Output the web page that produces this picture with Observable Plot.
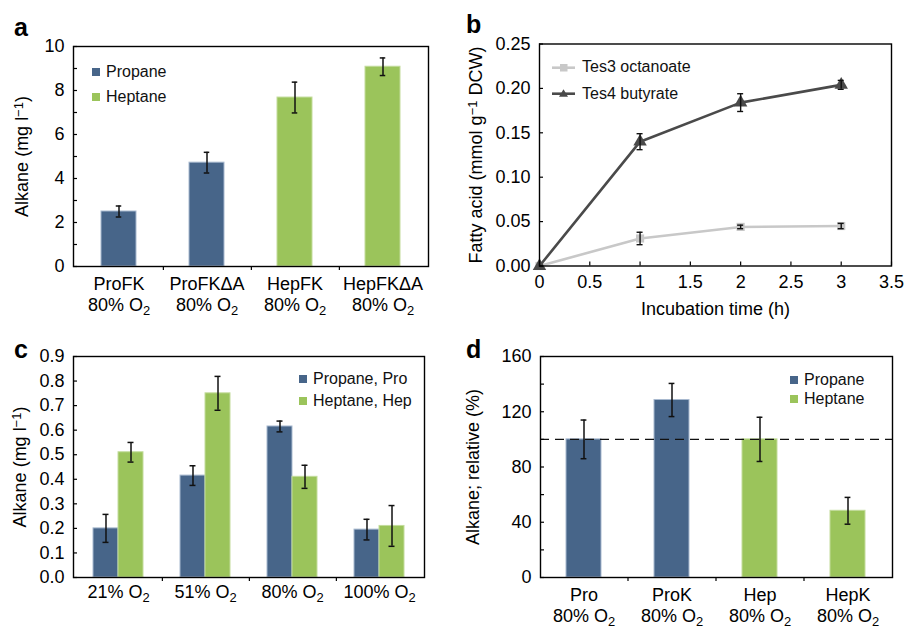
<!DOCTYPE html>
<html><head><meta charset="utf-8">
<script src="https://cdn.jsdelivr.net/npm/d3@7"></script>
<script src="https://cdn.jsdelivr.net/npm/@observablehq/plot@0.6"></script>
<style>
body{margin:0;background:#fff;font-family:"Liberation Sans",Arial,sans-serif;}
#fig{position:relative;width:904px;height:629px;overflow:hidden;background:#fff;}
.panel{position:absolute;}
.letter{position:absolute;font-weight:bold;font-size:25px;line-height:1;color:#000;}
.leg{position:absolute;font-size:16px;color:#111;white-space:nowrap;display:flex;align-items:center;height:20px;}
.sw{display:inline-block;width:8px;height:8px;margin-right:6px;}
</style></head><body><div id="fig"></div><script>
// ---------- data ----------
// Panel a
const aCategories = ["ProFK", "ProFKΔA", "HepFK", "HepFKΔA"];
const aCondition = ["80% O_{2}", "80% O_{2}", "80% O_{2}", "80% O_{2}"];
const aSeries = ["Propane", "Propane", "Heptane", "Heptane"];
const aValues = [2.5, 4.72, 7.68, 9.08];
const aErrors = [0.25, 0.47, 0.70, 0.40];
const aTicks = [0, 2, 4, 6, 8, 10];
const aMinorTicks = [0, 1, 2, 3, 4, 5, 6, 7, 8, 9, 10];

// Panel b
const bTimes = [0, 1, 2, 3];
const bOctanoate = [0, 0.031, 0.044, 0.045];
const bOctanoateErr = [0, 0.007, 0.002, 0.003];
const bButyrate = [0, 0.140, 0.184, 0.204];
const bButyrateErr = [0, 0.009, 0.010, 0.005];
const bXTicks = [0, 0.5, 1, 1.5, 2, 2.5, 3, 3.5];
const bYTicks = [0, 0.05, 0.10, 0.15, 0.20, 0.25];

// Panel c
const cGroups = ["21% O_{2}", "51% O_{2}", "80% O_{2}", "100% O_{2}"];
const cPropane = [0.20, 0.415, 0.615, 0.195];
const cPropaneErr = [0.057, 0.040, 0.022, 0.042];
const cHeptane = [0.51, 0.75, 0.41, 0.21];
const cHeptaneErr = [0.040, 0.069, 0.047, 0.083];
const cTicks = [0, 0.1, 0.2, 0.3, 0.4, 0.5, 0.6, 0.7, 0.8, 0.9];

// Panel d
const dStrains = ["Pro", "ProK", "Hep", "HepK"];
const dCondition = ["80% O_{2}", "80% O_{2}", "80% O_{2}", "80% O_{2}"];
const dSeries = ["Propane", "Propane", "Heptane", "Heptane"];
const dValues = [100, 128.5, 100, 48.3];
const dErrors = [14, 12, 16, 9.7];
const dReference = [100];
const dTicks = [0, 40, 80, 120, 160];
const dMinorTicks = [0, 20, 40, 60, 80, 100, 120, 140, 160];

// ---------- style ----------
const BLUE = "#476589", GREEN = "#9bc45b";
const BLUE_EDGE = "#a8b9cf", GREEN_EDGE = "#c3dc9c";
const LIGHT = "#c8c8c8", DARK = "#4a4a4a";
const FONT = "'Liberation Sans', Arial, Helvetica, sans-serif";
const fig = document.getElementById("fig");

function richify(svg) {
  const nodes = [];
  const walker = document.createTreeWalker(svg, NodeFilter.SHOW_TEXT);
  while (walker.nextNode()) nodes.push(walker.currentNode);
  for (const n of nodes) {
    const s = n.nodeValue;
    if (!/[_^]\{/.test(s)) continue;
    const parent = n.parentNode;
    const re = /([_^])\{([^}]*)\}/g;
    let last = 0, m;
    const frag = document.createDocumentFragment();
    while ((m = re.exec(s))) {
      if (m.index > last) frag.appendChild(document.createTextNode(s.slice(last, m.index)));
      const t = document.createElementNS("http://www.w3.org/2000/svg", "tspan");
      t.setAttribute("baseline-shift", m[1] === "_" ? "-30%" : "38%");
      t.setAttribute("font-size", "72%");
      t.textContent = m[2];
      frag.appendChild(t);
      last = re.lastIndex;
    }
    if (last < s.length) frag.appendChild(document.createTextNode(s.slice(last)));
    parent.replaceChild(frag, n);
  }
}

function place(svg, left, top) {
  const wrap = document.createElement("div");
  wrap.className = "panel";
  wrap.style.left = left + "px";
  wrap.style.top = top + "px";
  wrap.appendChild(svg);
  fig.appendChild(wrap);
  richify(svg);
}

function letter(ch, left, top) {
  const d = document.createElement("div");
  d.className = "letter";
  d.style.left = left + "px"; d.style.top = top + "px";
  d.textContent = ch;
  fig.appendChild(d);
}

function legendSquares(items, left, top, gap) {
  items.forEach((it, i) => {
    const d = document.createElement("div");
    d.className = "leg";
    d.style.left = left + "px"; d.style.top = (top + i * gap) + "px";
    d.innerHTML = `<span class="sw" style="background:${it.color}"></span>${it.label}`;
    fig.appendChild(d);
  });
}

const baseStyle = {fontFamily: FONT, fontSize: "18px", background: "transparent", overflow: "visible", color: "#000"};

// ---------- generic bar panel (a, d) ----------
function barPanel({cats, conds, series, values, errors, yDomain, yTicks, minor, yLabel, W, H, m, labelOffset, ref}) {
  const data = cats.map((c, i) => ({cat: c, cond: conds[i], series: series[i], v: values[i], e: errors[i]}));
  const fw = W - m.l - m.r;
  const step = fw / cats.length;
  const pad = 0.6;
  const bw = step * (1 - pad);
  const cap = 3;
  const condOf = new Map(data.map(d => [d.cat, d.cond]));
  const marks = [
    Plot.barY(data.filter(d => d.series === "Propane"), {x: "cat", y: "v", fill: BLUE, stroke: BLUE_EDGE, strokeWidth: 1}),
    Plot.barY(data.filter(d => d.series === "Heptane"), {x: "cat", y: "v", fill: GREEN, stroke: GREEN_EDGE, strokeWidth: 1}),
  ];
  if (ref) marks.push(Plot.ruleY(ref, {y: d => d, stroke: "#111", strokeWidth: 1.4, strokeDasharray: "9,6"}));
  marks.push(
    Plot.ruleX(data, {x: "cat", y1: d => d.v - d.e, y2: d => d.v + d.e, stroke: "#111", strokeWidth: 1.5}),
    Plot.tickY(data, {x: "cat", y: d => d.v + d.e, stroke: "#111", strokeWidth: 1.5, insetLeft: bw / 2 - cap, insetRight: bw / 2 - cap}),
    Plot.tickY(data, {x: "cat", y: d => d.v - d.e, stroke: "#111", strokeWidth: 1.5, insetLeft: bw / 2 - cap, insetRight: bw / 2 - cap}),
    Plot.ruleY(minor, {y: d => d, stroke: "#000", strokeWidth: 1.2, insetRight: fw - 4}),
    Plot.ruleX(cats.slice(0, -1), {x: d => d, y1: yDomain[0], y2: yDomain[0], dx: step / 2, insetTop: 4, stroke: "#000", strokeWidth: 1.2}),
    Plot.frame({stroke: "#000", strokeWidth: 1.4}),
    Plot.axisY({ticks: yTicks, tickSize: 0, tickPadding: 9, label: yLabel, labelAnchor: "center", labelOffset, labelArrow: "none"}),
    Plot.axisX({tickSize: 0, tickPadding: 8, label: null, lineHeight: 1.2, tickFormat: c => c + "\n" + condOf.get(c)})
  );
  return Plot.plot({
    width: W, height: H, marginLeft: m.l, marginRight: m.r, marginTop: m.t, marginBottom: m.b,
    style: baseStyle,
    x: {domain: cats, paddingInner: pad, paddingOuter: pad / 2},
    y: {domain: yDomain},
    marks
  });
}

// ---------- panel a ----------
place(barPanel({
  cats: aCategories, conds: aCondition, series: aSeries, values: aValues, errors: aErrors,
  yDomain: [0, 10], yTicks: aTicks, minor: aMinorTicks, yLabel: "Alkane (mg l^{−1})",
  W: 450, H: 320, m: {l: 73, r: 22, t: 46, b: 54}, labelOffset: 58
}), 0, 0);
letter("a", 14, 15);
legendSquares([{label: "Propane", color: BLUE}, {label: "Heptane", color: GREEN}], 92, 62, 25);

// ---------- panel b ----------
(function () {
  const W = 454, H = 320, m = {l: 89, r: 13, t: 43.5, b: 54.5};
  const fw = W - m.l - m.r;
  const pxPerX = fw / 3.5;
  const capX = 3 / pxPerX;
  const oct = bTimes.map((t, i) => ({t, v: bOctanoate[i], e: bOctanoateErr[i]}));
  const but = bTimes.map((t, i) => ({t, v: bButyrate[i], e: bButyrateErr[i]}));
  const errMarks = (arr) => {
    const d = arr.filter(p => p.e > 0);
    return [
      Plot.ruleX(d, {x: "t", y1: p => p.v - p.e, y2: p => p.v + p.e, stroke: "#111", strokeWidth: 1.4}),
      Plot.ruleY(d, {y: p => p.v + p.e, x1: p => p.t - capX, x2: p => p.t + capX, stroke: "#111", strokeWidth: 1.4}),
      Plot.ruleY(d, {y: p => p.v - p.e, x1: p => p.t - capX, x2: p => p.t + capX, stroke: "#111", strokeWidth: 1.4})
    ];
  };
  const svg = Plot.plot({
    width: W, height: H, marginLeft: m.l, marginRight: m.r, marginTop: m.t, marginBottom: m.b,
    style: baseStyle,
    x: {domain: [0, 3.5]},
    y: {domain: [0, 0.25]},
    marks: [
      Plot.line(oct, {x: "t", y: "v", stroke: LIGHT, strokeWidth: 2.6}),
      Plot.dot(oct, {x: "t", y: "v", symbol: "square", r: 4.6, fill: LIGHT, stroke: "none"}),
      ...errMarks(oct),
      Plot.line(but, {x: "t", y: "v", stroke: DARK, strokeWidth: 2.6}),
      Plot.dot(but, {x: "t", y: "v", symbol: "triangle", r: 5, fill: DARK, stroke: "none"}),
      ...errMarks(but),
      Plot.ruleY(bYTicks, {y: d => d, stroke: "#000", strokeWidth: 1.2, insetRight: fw - 4}),
      Plot.ruleX(bXTicks, {x: d => d, y1: 0, y2: 0, insetBottom: 4, stroke: "#000", strokeWidth: 1.2}),
      Plot.frame({stroke: "#000", strokeWidth: 1.4}),
      Plot.axisY({ticks: bYTicks, tickFormat: d3.format(".2f"), tickSize: 0, tickPadding: 9,
        label: "Fatty acid (mmol g^{−1} DCW)", labelAnchor: "center", labelOffset: 70, labelArrow: "none"}),
      Plot.axisX({ticks: bXTicks, tickFormat: d => String(d), tickSize: 0, tickPadding: 9,
        label: "Incubation time (h)", labelAnchor: "center", labelOffset: 49, labelArrow: "none"})
    ]
  });
  place(svg, 450, 0);
})();
letter("b", 466, 12);
(function () {
  const items = [
    {label: "Tes3 octanoate", color: LIGHT, sym: `<rect x="8" y="3" width="7.5" height="7.5" fill="${LIGHT}"/>`},
    {label: "Tes4 butyrate", color: DARK, sym: `<path d="M11.5,2.2 L16,9.8 L7,9.8 Z" fill="${DARK}"/>`}
  ];
  items.forEach((it, i) => {
    const d = document.createElement("div");
    d.className = "leg";
    d.style.left = "552px"; d.style.top = (57 + i * 26.5) + "px";
    d.innerHTML = `<svg width="23" height="13" style="margin-right:7px"><line x1="0" y1="6.7" x2="23" y2="6.7" stroke="${it.color}" stroke-width="2.6"/>${it.sym}</svg>${it.label}`;
    fig.appendChild(d);
  });
})();

// ---------- panel c ----------
(function () {
  const W = 450, H = 309, m = {l: 73, r: 26, t: 36, b: 52};
  const fw = W - m.l - m.r;
  const step = fw / cGroups.length;
  const pad = 0.43;
  const bw = step * (1 - pad);
  const cap = 3;
  const pro = cGroups.map((g, i) => ({g, v: cPropane[i], e: cPropaneErr[i]}));
  const hep = cGroups.map((g, i) => ({g, v: cHeptane[i], e: cHeptaneErr[i]}));
  const err = (arr, side) => {
    const dx = side * bw / 4;
    const il = side < 0 ? bw / 4 - cap : 3 * bw / 4 - cap;
    const ir = side < 0 ? 3 * bw / 4 - cap : bw / 4 - cap;
    return [
      Plot.ruleX(arr, {x: "g", y1: d => d.v - d.e, y2: d => d.v + d.e, dx, stroke: "#111", strokeWidth: 1.5}),
      Plot.tickY(arr, {x: "g", y: d => d.v + d.e, insetLeft: il, insetRight: ir, stroke: "#111", strokeWidth: 1.5}),
      Plot.tickY(arr, {x: "g", y: d => d.v - d.e, insetLeft: il, insetRight: ir, stroke: "#111", strokeWidth: 1.5})
    ];
  };
  const svg = Plot.plot({
    width: W, height: H, marginLeft: m.l, marginRight: m.r, marginTop: m.t, marginBottom: m.b,
    style: baseStyle,
    x: {domain: cGroups, paddingInner: pad, paddingOuter: pad / 2},
    y: {domain: [0, 0.9]},
    marks: [
      Plot.barY(pro, {x: "g", y: "v", insetRight: bw / 2, fill: BLUE, stroke: BLUE_EDGE, strokeWidth: 1}),
      Plot.barY(hep, {x: "g", y: "v", insetLeft: bw / 2, fill: GREEN, stroke: GREEN_EDGE, strokeWidth: 1}),
      ...err(pro, -1),
      ...err(hep, 1),
      Plot.ruleY(cTicks, {y: d => d, stroke: "#000", strokeWidth: 1.2, insetRight: fw - 4}),
      Plot.ruleX(cGroups.slice(0, -1), {x: d => d, y1: 0, y2: 0, dx: step / 2, insetTop: 4, stroke: "#000", strokeWidth: 1.2}),
      Plot.frame({stroke: "#000", strokeWidth: 1.4}),
      Plot.axisY({ticks: cTicks, tickFormat: d3.format(".1f"), tickSize: 0, tickPadding: 9,
        label: "Alkane (mg l^{−1})", labelAnchor: "center", labelOffset: 60, labelArrow: "none"}),
      Plot.axisX({tickSize: 0, tickPadding: 8, label: null})
    ]
  });
  place(svg, 0, 320);
})();
letter("c", 14, 337);
legendSquares([{label: "Propane, Pro", color: BLUE}, {label: "Heptane, Hep", color: GREEN}], 299, 369, 21.5);

// ---------- panel d ----------
place(barPanel({
  cats: dStrains, conds: dCondition, series: dSeries, values: dValues, errors: dErrors,
  yDomain: [0, 160], yTicks: dTicks, minor: dMinorTicks, yLabel: "Alkane; relative (%)",
  W: 454, H: 309, m: {l: 90, r: 12, t: 36, b: 52}, labelOffset: 74, ref: dReference
}), 450, 320);
letter("d", 466, 337);
legendSquares([{label: "Propane", color: BLUE}, {label: "Heptane", color: GREEN}], 790, 370, 19);
</script></body></html>
